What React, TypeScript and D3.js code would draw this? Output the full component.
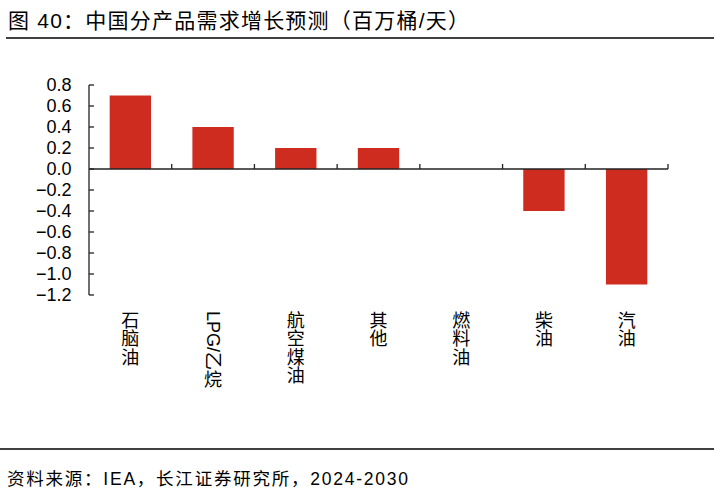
import React from 'react';
import * as d3 from 'd3';

const categories = ['石脑油', 'LPG/乙烷', '航空煤油', '其他', '燃料油', '柴油', '汽油'];
// part of each label that is laid on its side (read top to bottom) before the upright characters
const sidewaysPart = ['', 'LPG/乙', '', '', '', '', ''];
const values = [0.7, 0.4, 0.2, 0.2, 0.0, -0.4, -1.1];
const yTicks = [0.8, 0.6, 0.4, 0.2, 0.0, -0.2, -0.4, -0.6, -0.8, -1.0, -1.2];

const title = '图 40：中国分产品需求增长预测（百万桶/天）';
const source = '资料来源：IEA，长江证券研究所，2024-2030';

const W = 714;
const H = 494;
const mixed = '"Liberation Sans", "Noto Sans CJK SC", sans-serif';
const latin = '"Liberation Sans", Arial, sans-serif';

const labelSize = 18;

const measure = (txt: string, font: string): number => {
  const ctx = document.createElement('canvas').getContext('2d');
  if (!ctx) return txt.length * labelSize * 0.7;
  ctx.font = font;
  return ctx.measureText(txt).width;
};

const App: React.FC = () => {
  const plot = { left: 89, right: 668, top: 85, bottom: 295 };

  const x = d3.scaleBand<string>()
    .domain(categories)
    .range([plot.left, plot.right])
    .paddingInner(0.5)
    .paddingOuter(0.25);

  const y = d3.scaleLinear()
    .domain([-1.2, 0.8])
    .range([plot.bottom, plot.top]);

  const step = x.step();
  const boundaries = d3.range(categories.length + 1).map((i) => plot.left + i * step);
  const labelTop = 311;

  return (
    <svg
      width={W}
      height={H}
      style={{ position: 'absolute', left: 0, top: 0, background: '#fff' }}
    >
      <text
        x={8}
        y={28}
        fontFamily={mixed}
        fontSize={21}
        fill="#000"
        textLength={461}
        lengthAdjust="spacing"
      >
        {title}
      </text>
      <line x1={6} x2={W} y1={38} y2={38} stroke="#000" strokeWidth={1.5} />

      {/* bars */}
      {categories.map((c, i) => (
        <rect
          key={c}
          x={x(c)}
          width={x.bandwidth()}
          y={y(Math.max(0, values[i]))}
          height={Math.abs(y(values[i]) - y(0))}
          fill="#cf2c20"
        />
      ))}

      {/* y axis */}
      <line x1={plot.left} x2={plot.left} y1={y(0.8)} y2={y(-1.2)} stroke="#222" strokeWidth={1.3} />
      {yTicks.map((t) => (
        <g key={t}>
          <line x1={plot.left} x2={plot.left + 5} y1={y(t)} y2={y(t)} stroke="#222" strokeWidth={1.3} />
          <text
            x={71.5}
            y={y(t)}
            dy="0.36em"
            textAnchor="end"
            fontFamily={latin}
            fontSize={18}
            fill="#000"
          >
            {d3.format('.1f')(t)}
          </text>
        </g>
      ))}

      {/* x axis at zero */}
      <line x1={plot.left} x2={plot.right} y1={y(0)} y2={y(0)} stroke="#222" strokeWidth={1.3} />
      {boundaries.slice(1).map((b, i) => (
        <line key={i} x1={b} x2={b} y1={y(0)} y2={y(0) - 5} stroke="#222" strokeWidth={1.3} />
      ))}

      {/* category labels, stacked vertically */}
      {categories.map((c, i) => {
        const cx = (x(c) as number) + x.bandwidth() / 2;
        const side = sidewaysPart[i];
        const upright = Array.from(c.slice(side.length));
        const sideLen = side ? measure(side, `${labelSize}px ${mixed}`) : 0;
        return (
          <g key={c}>
            {side && (
              <text
                transform={`translate(${cx},${labelTop}) rotate(90)`}
                x={0}
                y={0}
                dy="0.35em"
                fontFamily={mixed}
                fontSize={labelSize}
                fill="#000"
              >
                {side}
              </text>
            )}
            {upright.map((ch, j) => (
              <text
                key={j}
                x={cx}
                y={labelTop + sideLen + j * labelSize * 1.02 + labelSize * 0.88}
                textAnchor="middle"
                fontFamily={mixed}
                fontSize={labelSize}
                fill="#000"
              >
                {ch}
              </text>
            ))}
          </g>
        );
      })}

      <line x1={0} x2={W} y1={449} y2={449} stroke="#000" strokeWidth={1.3} />
      <text
        x={7}
        y={485}
        fontFamily={mixed}
        fontSize={17.5}
        fill="#000"
        textLength={401}
        lengthAdjust="spacing"
      >
        {source}
      </text>
    </svg>
  );
};

export default App;
